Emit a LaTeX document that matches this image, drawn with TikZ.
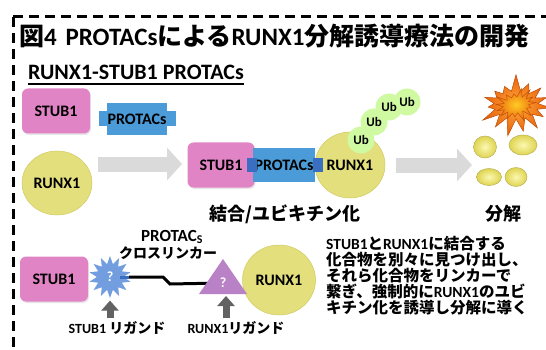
\documentclass[tikz,border=0pt]{standalone}
\usepackage{fontspec}
\setmainfont{Carlito}
\newfontfamily\jpfont{Noto Sans CJK JP}
\newcommand\jp[1]{{\jpfont #1}}
\usetikzlibrary{shapes.geometric,shapes.symbols,arrows.meta,shadows}

\definecolor{stubpink}{RGB}{225,132,197}
\definecolor{runxyellow}{RGB}{226,223,124}
\definecolor{runxedge}{RGB}{208,202,100}
\definecolor{protblue}{RGB}{74,155,215}
\definecolor{protdark}{RGB}{58,110,192}
\definecolor{ubgreen}{RGB}{208,250,162}
\definecolor{arrowgray}{RGB}{218,218,218}
\definecolor{liggray}{RGB}{98,98,98}
\definecolor{ligpurple}{RGB}{186,130,198}
\definecolor{ligblue}{RGB}{114,158,224}
\definecolor{fragin}{RGB}{252,248,178}
\definecolor{fragout}{RGB}{222,212,80}
\definecolor{fragedge}{RGB}{186,176,90}
\definecolor{burstin}{RGB}{255,170,60}
\definecolor{burstout}{RGB}{232,96,10}

\tikzset{
  stubbox/.style={rectangle, rounded corners=6pt, fill=stubpink, inner sep=0pt,
    minimum width=68pt, minimum height=45pt,
    drop shadow={opacity=0.2, shadow xshift=1pt, shadow yshift=-1.5pt},
    font=\bfseries\fontsize{16}{16}\selectfont},
  runxball/.style={ellipse, fill=runxyellow, draw=runxedge, line width=0.5pt,
    inner sep=0pt, font=\bfseries\fontsize{16}{16}\selectfont},
  protbody/.style={rectangle, fill=protblue, inner sep=0pt,
    font=\bfseries\fontsize{16}{16}\selectfont},
  ubball/.style={circle, fill=ubgreen, minimum size=27pt, inner sep=0pt},
  ubtext/.style={inner sep=0pt, font=\bfseries\fontsize{13}{13}\selectfont},
  bigarrow/.style={draw=arrowgray, line width=15pt, -{Triangle[length=15pt,width=32pt]}},
  ligarrow/.style={draw=liggray, line width=7pt, -{Triangle[length=10pt,width=17pt]}},
  linker/.style={draw=black, line width=3pt},
  qmark/.style={inner sep=0pt, text=white, font=\bfseries\fontsize{14}{14}\selectfont},
  frag/.style={inner color=fragin, outer color=fragout, draw=fragedge, line width=0.5pt},
  burstshape/.style={starburst, starburst points=15, inner sep=0pt, line width=0.5pt},
  jplbl/.style={inner sep=0pt, font=\bfseries\fontsize{18}{18}\selectfont},
  smalllbl/.style={inner sep=0pt, font=\bfseries\fontsize{14}{14}\selectfont}
}

\begin{document}
\begin{tikzpicture}[x=1pt,y=-1pt]
  \useasboundingbox (0,0) rectangle (546,350);

  % --- dashed frame, open to the right and below ---
  \draw[line width=3pt, dash pattern=on 10pt off 6pt] (13,17) -- (546,17);
  \draw[line width=3pt, dash pattern=on 10pt off 6pt] (13,17) -- (13,350);

  % --- headings ---
  \node[anchor=base west, inner sep=0pt, font=\bfseries\fontsize{25}{25}\selectfont]
    (title) at (19,46) {\jp{図}4\hspace{3pt} PROTACs\jp{による}RUNX1\jp{分解誘導療法の開発}};
  \node[anchor=base west, inner sep=0pt, font=\bfseries\fontsize{22}{22}\selectfont]
    (sub) at (28,80) {RUNX1-STUB1 PROTACs};
  \draw[line width=1.5pt] ([yshift=-4pt]sub.base west) -- ([yshift=-4pt]sub.base east);

  % --- free partners ---
  \node[stubbox] (stubA) at (56,111) {STUB1};
  \node[protbody, minimum width=77pt, minimum height=15pt] (protTabA) at (137,119) {};
  \node[protbody, minimum width=60pt, minimum height=32pt] (protA) at (137,119) {PROTACs};
  \node[runxball, minimum width=70pt, minimum height=64pt] (runxA) at (57,183) {RUNX1};

  \coordinate (arr1a) at (98,164);
  \coordinate (arr1b) at (182,164);
  \draw[bigarrow] (arr1a) -- (arr1b);

  % --- ternary complex ---
  \node[stubbox, minimum width=67pt] (stubB) at (221,165) {STUB1};
  \node[runxball, minimum width=70pt, minimum height=66pt] (runxB) at (350,165) {RUNX1};
  \node[protbody, minimum width=62pt, minimum height=34pt] (protB) at (284,165) {PROTACs};
  \fill[protdark] ([xshift=-6pt]protB.west) ++(0,-7) rectangle ++(10,14);
  \fill[protdark] ([xshift=-2pt]protB.east) ++(0,-7) rectangle ++(10,14);

  % ubiquitin chain
  \foreach \p [count=\i] in {(361,140),(374,122),(389,107),(407,102)}
    \node[ubball] (ub\i) at \p {};
  \foreach \i in {1,...,4}
    \node[ubtext] at (ub\i) {Ub};

  \coordinate (arr2a) at (396,165);
  \coordinate (arr2b) at (472,165);
  \draw[bigarrow] (arr2a) -- (arr2b);

  % --- degradation ---
  \node[burstshape, starburst point height=18pt, random starburst=7,
    minimum width=80pt, minimum height=64pt, inner color=burstin, outer color=burstout,
    draw=burstout!80!black] (burst) at (516,105) {};
  \node[burstshape, starburst point height=10pt, random starburst=3, rotate=12,
    minimum width=46pt, minimum height=36pt, inner color=burstin!60!yellow,
    outer color=burstout!90!burstin, draw=burstout!85!black] (burstcore) at (516,105) {};
  \shadedraw[frag] (485,147) ellipse (11.5 and 11);
  \shadedraw[frag] (523,145) ellipse (14 and 10);
  \shadedraw[frag] (489,177) ellipse (12.5 and 8.5);
  \shadedraw[frag] (516,177) ellipse (11 and 9.5);

  \node[jplbl] (bindlbl) at (285,214) {\jp{結合/ユビキチン化}};
  \node[jplbl] (deglbl) at (503,214) {\jp{分解}};

  % --- ligand search ---
  \node[stubbox] (stubC) at (54,279) {STUB1};
  \node[star, star points=14, star point ratio=1.6, minimum size=42pt, inner sep=0pt,
    fill=ligblue] (stubsite) at (110,277) {};
  \node[qmark] at (stubsite) {?};
  \node[runxball, minimum width=73pt, minimum height=70pt] (runxC) at (279,280) {RUNX1};
  \coordinate (runxsite) at (223,283);

  \draw[protdark, line width=3pt] ([xshift=10pt]stubsite.center) -- ++(9,0);
  \draw[linker] ([xshift=19pt]stubsite.center) -- ++(34,0) -- ++(7,7) -- (runxsite);

  \fill[ligpurple] (223,259) -- (247,294) -- (199,294) -- cycle;
  \node[qmark] at (runxsite) {?};

  \node[inner sep=0pt, font=\bfseries\fontsize{17}{17}\selectfont]
    (linkname) at (172,237) {PROTAC\textsubscript{S}};
  \node[smalllbl] (linkjp) at (168,253) {\jp{クロスリンカー}};

  \node[smalllbl] (stublig) at (117,328) {STUB1 \jp{リガンド}};
  \node[smalllbl] (runxlig) at (236,328) {RUNX1\jp{リガンド}};
  \coordinate (runxtip) at (226,296);
  \draw[ligarrow] (stubsite |- stublig.north) ++(0,-3) -- ([yshift=-2pt]stubsite.south);
  \draw[ligarrow] (runxtip |- runxlig.north) ++(0,-3) -- (runxtip);

  % --- summary ---
  \node[anchor=north west, align=left, inner sep=0pt,
    font=\bfseries\fontsize{15.5}{16}\selectfont] (summary) at (326,236)
    {STUB1\jp{と}RUNX1\jp{に結合する}\\
     \jp{化合物を別々に見つけ出し、}\\
     \jp{それら化合物をリンカーで}\\
     \jp{繋ぎ、強制的に}RUNX1\jp{のユビ}\\
     \jp{キチン化を誘導し分解に導く}};
\end{tikzpicture}
\end{document}
